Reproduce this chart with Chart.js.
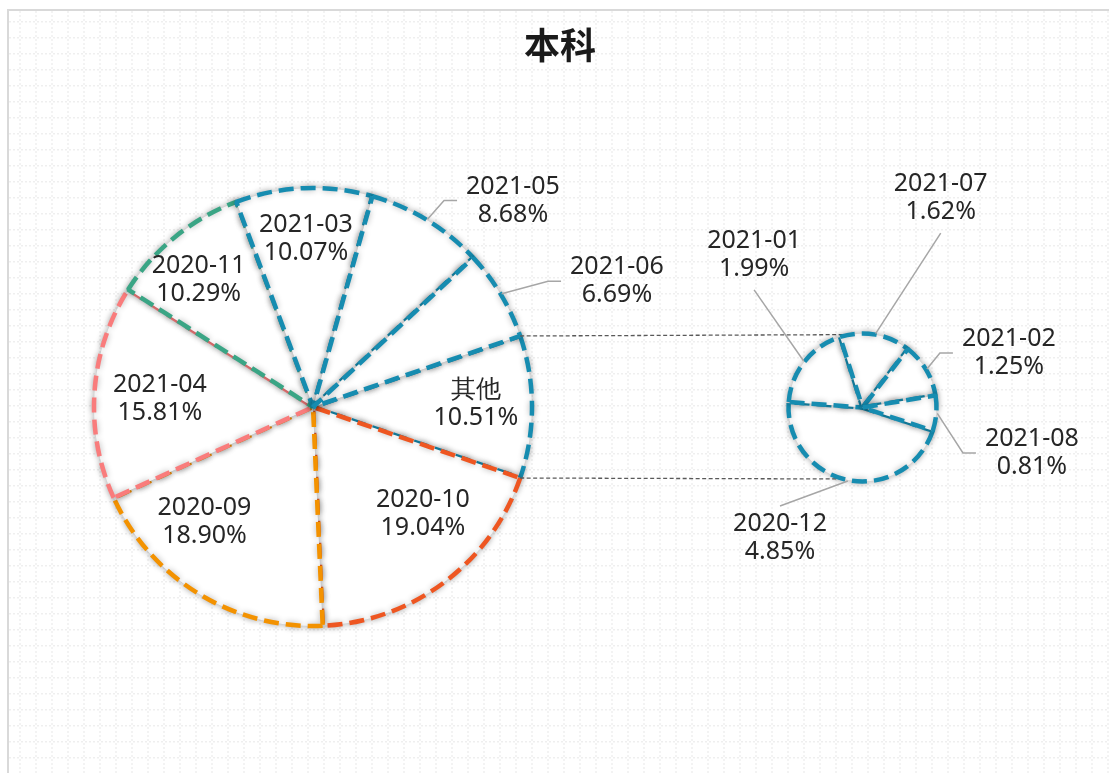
<!DOCTYPE html>
<html>
<head>
<meta charset="utf-8">
<script src="https://cdn.jsdelivr.net/npm/chart.js@4.4.0/dist/chart.umd.min.js"></script>
<style>
  html, body { margin: 0; padding: 0; background: #fff; }
  #wrap { position: relative; width: 1109px; height: 773px; overflow: hidden; }
  #wrap canvas { position: absolute; left: 0; top: 0; }
</style>
</head>
<body>
<div id="wrap">
  <canvas id="mainPie" width="1109" height="773"></canvas>
  <canvas id="subPie" width="1109" height="773"></canvas>
</div>
<script>
// ---- data ----
var titleText = "本科";
var mainLabels = ["其他", "2020-10", "2020-09", "2021-04", "2020-11", "2021-03", "2021-05", "2021-06"];
var mainValues = [10.51, 19.04, 18.90, 15.81, 10.29, 10.07, 8.68, 6.69];
var subLabels = ["2020-12", "2021-01", "2021-07", "2021-02", "2021-08"];
var subValues = [4.85, 1.99, 1.62, 1.25, 0.81];

// ---- styles ----
var teal = "#168cb0";
var mainBorders = [teal, "#ee5621", "#f39200", "#f97c7c", "#3aa585", teal, teal, teal];
var subBorders = [teal, teal, teal, teal, teal];

// label placement: r = distance in radii, da = degrees off the slice middle
var mainLabelPos = [
  { r: 0.744, da: -1 },
  { r: 0.70, da: -9 },
  { r: 0.72, da: 12 },
  { r: 0.70, da: -1 },
  { r: 0.78, da: -3 },
  { r: 0.77, da: 0 },
  { r: 1.313, da: 12.7, lead: "side" },
  { r: 1.502, da: 8.5, lead: "side" }
];
var subLabelPos = [
  { r: 2.087, da: 21, lead: "top" },
  { r: 2.53, da: 16.3, lead: "bottom" },
  { r: 3.02, da: 10.4, lead: "bottom" },
  { r: 2.11, da: 10.4, lead: "side" },
  { r: 2.37, da: 10.6, lead: "side" }
];

function labelPlugin(id, layout) {
  return {
    id: id,
    afterDatasetsDraw: function (chart) {
      var ctx = chart.ctx;
      var meta = chart.getDatasetMeta(0);
      var labels = chart.data.labels;
      var values = chart.data.datasets[0].data;
      ctx.save();
      ctx.font = '25px "Noto Sans"';
      ctx.textAlign = "center";
      ctx.textBaseline = "middle";
      meta.data.forEach(function (arc, i) {
        var p = arc.getProps(["x", "y", "startAngle", "endAngle", "outerRadius"], true);
        var lay = layout[i];
        var mid = (p.startAngle + p.endAngle) / 2;
        var a = mid + lay.da * Math.PI / 180;
        var cx = p.x + Math.cos(a) * p.outerRadius * lay.r;
        var cy = p.y + Math.sin(a) * p.outerRadius * lay.r;
        var line1 = labels[i];
        var line2 = values[i].toFixed(2) + "%";
        if (lay.lead) {
          var sx = p.x + Math.cos(mid) * (p.outerRadius + 1);
          var sy = p.y + Math.sin(mid) * (p.outerRadius + 1);
          var w = Math.max(ctx.measureText(line1).width, ctx.measureText(line2).width);
          ctx.strokeStyle = "#a6a6a6";
          ctx.lineWidth = 1.5;
          ctx.beginPath();
          ctx.moveTo(sx, sy);
          if (lay.lead === "side") {
            var ex = cx - w / 2 - 9;
            ctx.lineTo(ex - 13, cy);
            ctx.lineTo(ex, cy);
          } else if (lay.lead === "top") {
            ctx.lineTo(cx, cy - 32);
          } else {
            ctx.lineTo(cx, cy + 35);
          }
          ctx.stroke();
        }
        ctx.fillStyle = "#262626";
        ctx.fillText(line1, cx, cy - 14);
        ctx.fillText(line2, cx, cy + 14);
      });
      ctx.restore();
    }
  };
}

// soft shadow under the slices
var shade = {
  id: "shade",
  beforeDatasetsDraw: function (chart) {
    var ctx = chart.ctx;
    ctx.save();
    ctx.shadowColor = "rgba(0,0,0,0.3)";
    ctx.shadowBlur = 6;
  },
  afterDatasetsDraw: function (chart) {
    chart.ctx.restore();
  }
};

// dotted chart area, border and title
var backdrop = {
  id: "backdrop",
  beforeDraw: function (chart) {
    var ctx = chart.ctx;
    var w = chart.width, h = chart.height;
    ctx.save();
    ctx.fillStyle = "#fff";
    ctx.fillRect(0, 0, w, h);
    ctx.strokeStyle = "#efefef";
    ctx.lineWidth = 1.5;
    ctx.setLineDash([2, 2]);
    ctx.beginPath();
    for (var y = 21.7; y < h; y += 16) { ctx.moveTo(9, y); ctx.lineTo(w, y); }
    for (var x = 20; x < w; x += 16) { ctx.moveTo(x, 11); ctx.lineTo(x, h); }
    ctx.stroke();
    ctx.setLineDash([]);
    ctx.strokeStyle = "#d9d9d9";
    ctx.lineWidth = 2;
    ctx.strokeRect(8, 10, w + 20, h + 20);
    ctx.fillStyle = "#1a1a1a";
    ctx.font = 'bold 36px "Noto Sans CJK SC"';
    ctx.textAlign = "center";
    ctx.textBaseline = "middle";
    ctx.fillText(titleText, 560, 45);
    ctx.restore();
  }
};

var mainChart = new Chart(document.getElementById("mainPie"), {
  type: "pie",
  data: {
    labels: mainLabels,
    datasets: [{
      data: mainValues,
      backgroundColor: "#ffffff",
      borderColor: mainBorders,
      borderWidth: 4.5,
      borderDash: [15, 7]
    }]
  },
  options: {
    responsive: false,
    animation: false,
    events: [],
    radius: 219,
    rotation: 90 - mainValues[0] * 180 / mainValues.reduce(function (s, v) { return s + v; }, 0),
    layout: { padding: { left: 0, right: 483, top: 41, bottom: 0 } },
    plugins: { legend: { display: false }, tooltip: { enabled: false } }
  },
  plugins: [backdrop, shade, labelPlugin("mainLabels", mainLabelPos)]
});

// dashed lines joining the "other" slice to the second pie
var connectors = {
  id: "connectors",
  beforeDraw: function (chart) {
    var ctx = chart.ctx;
    var o = mainChart.getDatasetMeta(0).data[0].getProps(["x", "y", "startAngle", "endAngle", "outerRadius"], true);
    var s = chart.getDatasetMeta(0).data[0].getProps(["x", "y", "outerRadius"], true);
    var topA = -100 * Math.PI / 180, botA = 105 * Math.PI / 180;
    ctx.save();
    ctx.strokeStyle = "#595959";
    ctx.lineWidth = 1.3;
    ctx.setLineDash([4, 2.5]);
    ctx.beginPath();
    ctx.moveTo(o.x + Math.cos(o.startAngle) * o.outerRadius, o.y + Math.sin(o.startAngle) * o.outerRadius);
    ctx.lineTo(s.x + Math.cos(topA) * s.outerRadius, s.y + Math.sin(topA) * s.outerRadius);
    ctx.moveTo(o.x + Math.cos(o.endAngle) * o.outerRadius, o.y + Math.sin(o.endAngle) * o.outerRadius);
    ctx.lineTo(s.x + Math.cos(botA) * s.outerRadius, s.y + Math.sin(botA) * s.outerRadius);
    ctx.stroke();
    ctx.restore();
  }
};

new Chart(document.getElementById("subPie"), {
  type: "pie",
  data: {
    labels: subLabels,
    datasets: [{
      data: subValues,
      backgroundColor: "#ffffff",
      borderColor: subBorders,
      borderWidth: 4.5,
      borderDash: [15, 7]
    }]
  },
  options: {
    responsive: false,
    animation: false,
    events: [],
    radius: 74,
    rotation: 108.3,
    layout: { padding: { left: 616, right: 0, top: 42, bottom: 0 } },
    plugins: { legend: { display: false }, tooltip: { enabled: false } }
  },
  plugins: [connectors, shade, labelPlugin("subLabels", subLabelPos)]
});
</script>
</body>
</html>
